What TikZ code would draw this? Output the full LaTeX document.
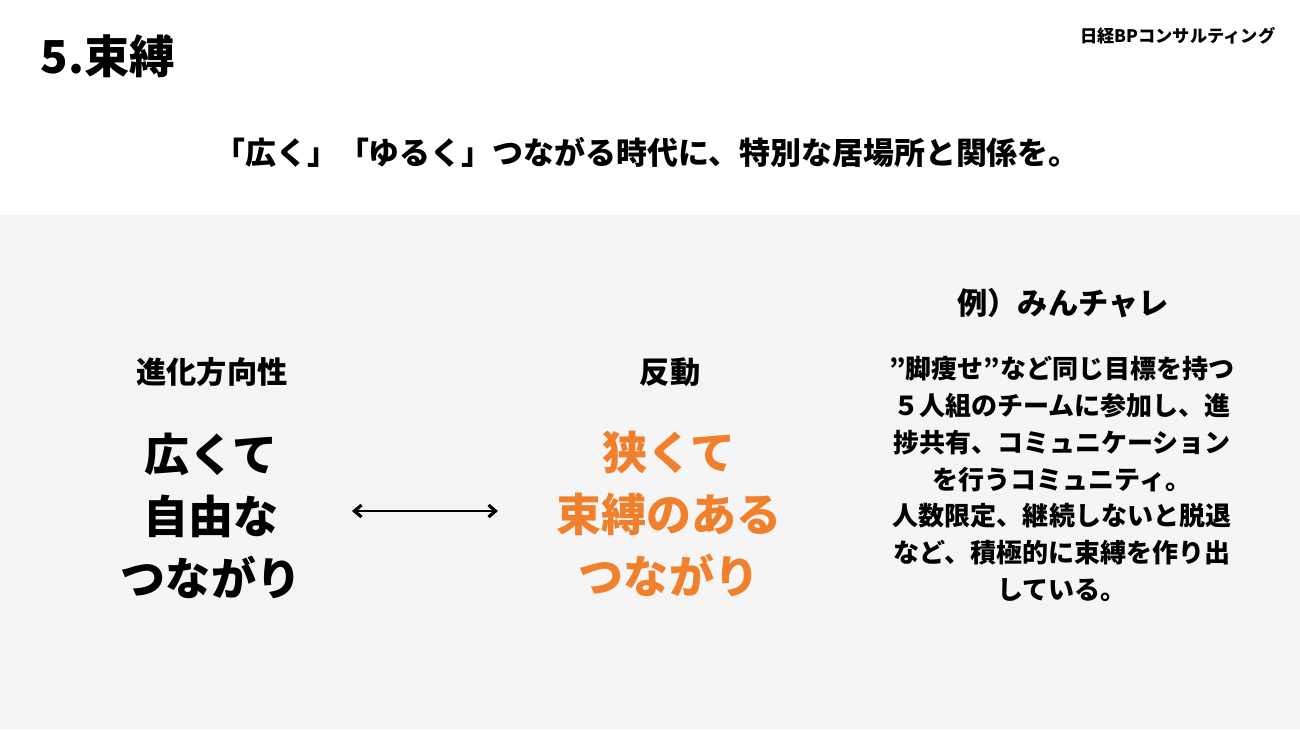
\documentclass[tikz,border=0pt]{standalone}
\usepackage{fontspec}
\setmainfont{Noto Sans CJK JP}
\usepackage{xcolor}
\usetikzlibrary{arrows.meta, positioning}
\definecolor{bandgray}{HTML}{F5F5F5}
\definecolor{bindorange}{HTML}{F0802C}

\begin{document}
\begin{tikzpicture}[x=0.01cm, y=-0.01cm,
            every node/.style={inner sep=0pt},
            heading/.style={font=\bfseries\fontsize{8.6}{10}\selectfont},
            bigtext/.style={align=center, font=\bfseries\fontsize{12.8}{17.6}\selectfont},
            note/.style={align=center, font=\bfseries\fontsize{7.4}{10.44}\selectfont}]
            \useasboundingbox (0,0) rectangle (1300,729);
            \fill[white] (0,0) rectangle (1300,729);
            \fill[bandgray] (0,215) rectangle (1300,729);

            \node[anchor=west, font=\bfseries\fontsize{12.9}{15}\selectfont] (title) at (40,56) {5.束縛};
            \node[anchor=east, font=\bfseries\fontsize{4.9}{6}\selectfont] (logo) at (1276,36) {日経BPコンサルティング};
            \node[heading, font=\bfseries\fontsize{8.8}{10}\selectfont] (tagline) at (647,152) {「広く」「ゆるく」つながる時代に、特別な居場所と関係を。};

            \node[heading] (trendhead) at (212,372) {進化方向性};
            \node[bigtext] (free) at (211,516) {広くて\\自由な\\つながり};

            \node[heading] (backhead) at (670,372) {反動};
            \node[bigtext, text=bindorange] (bound) at (669,514) {狭くて\\束縛のある\\つながり};

            \node[heading] (casehead) at (1063,303) {例）みんチャレ};
            \node[note] (casetext) at (1062,479) {”脚痩せ”など同じ目標を持つ\\５人組のチームに参加し、進\\捗共有、コミュニケーション\\を行うコミュニティ。\\人数限定、継続しないと脱退\\など、積極的に束縛を作り出\\している。};

            \coordinate (arrowL) at (352,511);
            \coordinate (arrowR) at (498,511);
            \draw[{Straight Barb[length=2pt,width=3.4pt,line width=0.9pt]}-{Straight Barb[length=2pt,width=3.4pt,line width=0.9pt]}, line width=0.75pt] (arrowL) -- (arrowR);
        \end{tikzpicture}
\end{document}
